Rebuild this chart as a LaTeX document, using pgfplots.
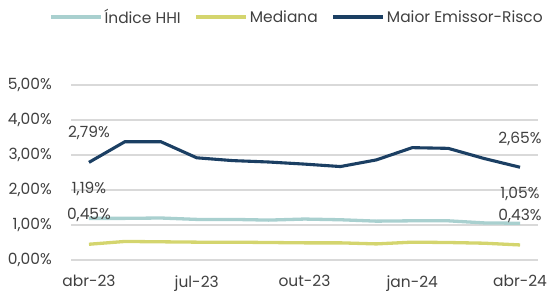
\documentclass[border=0pt]{standalone}
\usepackage{fontspec}
\setmainfont{Poppins}
\usepackage{pgfplots}
\pgfplotsset{compat=1.18}
\definecolor{hhi}{HTML}{A9D0CF}
\definecolor{med}{HTML}{D4D56E}
\definecolor{mai}{HTML}{1B3F63}
\definecolor{txt}{HTML}{404040}
\definecolor{grd}{HTML}{D9D9D9}
\begin{document}
\begin{tikzpicture}[x=1bp,y=1bp]
\useasboundingbox (0,0) rectangle (560,294);
\begin{axis}[
  at={(71bp,34bp)}, anchor=south west,
  scale only axis, width=467bp, height=175bp,
  xmin=-0.5, xmax=12.5, ymin=0, ymax=5,
  font=\fontsize{15.5}{17}\selectfont, text=txt,
  /pgf/number format/assume math mode=true,
  separate axis lines,
  axis x line*=bottom, axis y line*=left,
  x axis line style={draw=grd, line width=1.2bp, -},
  y axis line style={draw=none},
  xtick={0,3,6,9,12},
  xticklabels={abr-23,jul-23,out-23,jan-24,abr-24},
  x tick style={draw=none},
  major tick length=0pt,
  extra x ticks={-0.5,2.5,5.5,8.5,11.5},
  extra x tick labels={},
  extra x tick style={grid=none, tick style={draw=grd, line width=1.2bp}, major tick length=5bp, tick align=outside},
  xticklabel style={yshift=-12bp, text=txt},
  ytick={0,1,2,3,4,5},
  ytick style={draw=none},
  ymajorgrids, grid style={draw=grd, line width=1.1bp},
  yticklabel={\pgfmathprintnumber[fixed,fixed zerofill,precision=2,use comma]{\tick}\%},
  yticklabel style={inner sep=0pt, xshift=-19bp, text=txt},
  legend columns=3,
  legend style={draw=none, fill=none, at={(0.484,1.389)}, anchor=center, font=\fontsize{15.5}{17}\selectfont, text=txt, inner sep=0pt, /tikz/every even column/.append style={column sep=12bp}},
  legend image code/.code={\draw[#1, line width=3.2bp] (0bp,0bp) -- (50bp,0bp);},
  clip=false,
]
\addplot[hhi, line width=3.3bp] coordinates {(0,1.19)(1,1.19)(2,1.20)(3,1.16)(4,1.16)(5,1.14)(6,1.17)(7,1.15)(8,1.11)(9,1.12)(10,1.12)(11,1.06)(12,1.05)};
\addlegendentry{Índice HHI}
\addplot[med, line width=3.3bp] coordinates {(0,0.45)(1,0.53)(2,0.52)(3,0.51)(4,0.51)(5,0.50)(6,0.49)(7,0.49)(8,0.46)(9,0.51)(10,0.50)(11,0.48)(12,0.43)};
\addlegendentry{Mediana}
\addplot[mai, line width=3.1bp] coordinates {(0,2.79)(1,3.38)(2,3.38)(3,2.92)(4,2.84)(5,2.80)(6,2.74)(7,2.67)(8,2.86)(9,3.21)(10,3.19)(11,2.90)(12,2.65)};
\addlegendentry{Maior Emissor-Risco}
\node[text=txt] at (axis cs:0,3.62) {2,79\%};
\node[text=txt] at (axis cs:0,2.04) {1,19\%};
\node[text=txt] at (axis cs:0,1.29) {0,45\%};
\node[text=txt] at (axis cs:12,3.47) {2,65\%};
\node[text=txt] at (axis cs:12,1.88) {1,05\%};
\node[text=txt] at (axis cs:12,1.26) {0,43\%};
\end{axis}
\end{tikzpicture}
\end{document}
